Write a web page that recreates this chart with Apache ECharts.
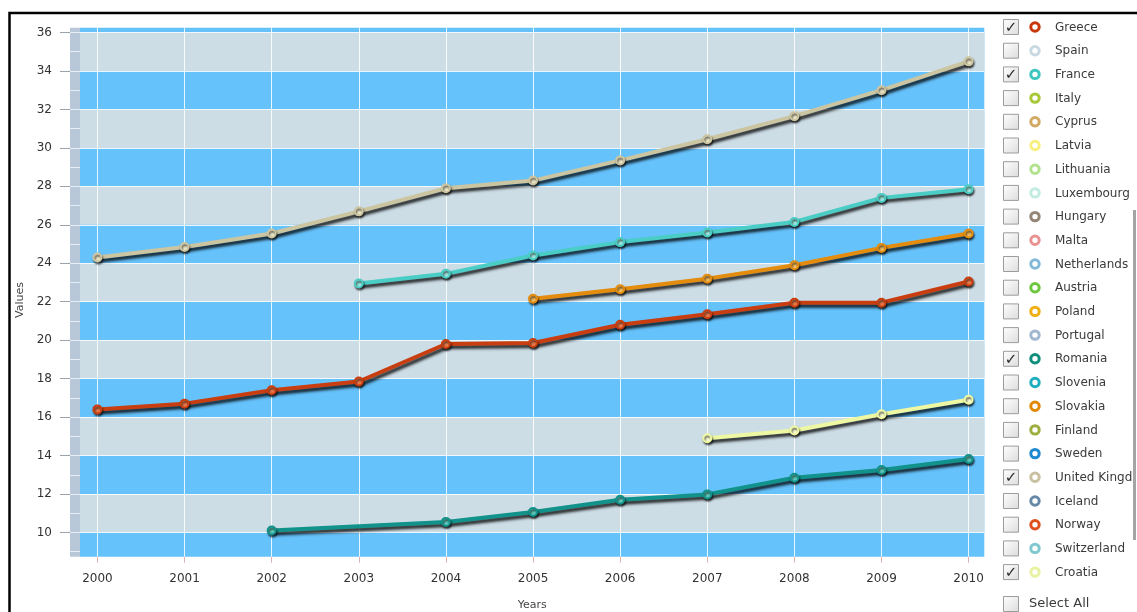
<!DOCTYPE html>
<html>
<head>
<meta charset="utf-8">
<title>Values by year</title>
<script src="https://cdn.jsdelivr.net/npm/echarts@6/dist/echarts.min.js"></script>
<style>
  html, body { margin: 0; padding: 0; background: #ffffff; }
  #chart { width: 1137px; height: 612px; }
</style>
</head>
<body>
<div id="chart"></div>
<script>
// ---- data ----
const years = [2000, 2001, 2002, 2003, 2004, 2005, 2006, 2007, 2008, 2009, 2010];

const greece        = [16.4, 16.7, 17.4, 17.85, 19.8, 19.85, 20.8, 21.35, 21.95, 21.95, 23.05];
const france        = [null, null, null, 22.95, 23.45, 24.4, 25.1, 25.6, 26.15, 27.4, 27.85];
const slovakia      = [null, null, null, null, null, 22.15, 22.65, 23.2, 23.9, 24.8, 25.55];
const romania       = [null, null, 10.1, null, 10.55, 11.07, 11.7, 11.98, 12.85, 13.25, 13.82];
const unitedKingdom = [24.3, 24.85, 25.55, 26.7, 27.9, 28.3, 29.35, 30.45, 31.65, 33.0, 34.5];
const croatia       = [null, null, null, null, null, null, null, 14.9, 15.3, 16.15, 16.9];

const yTicks = [10, 12, 14, 16, 18, 20, 22, 24, 26, 28, 30, 32, 34, 36];
const yMinorTicks = [9, 10, 11, 12, 13, 14, 15, 16, 17, 18, 19, 20, 21, 22,
                     23, 24, 25, 26, 27, 28, 29, 30, 31, 32, 33, 34, 35, 36];

const countries = ['Greece', 'Spain', 'France', 'Italy', 'Cyprus', 'Latvia', 'Lithuania',
  'Luxembourg', 'Hungary', 'Malta', 'Netherlands', 'Austria', 'Poland', 'Portugal',
  'Romania', 'Slovenia', 'Slovakia', 'Finland', 'Sweden', 'United Kingdom', 'Iceland',
  'Norway', 'Switzerland', 'Croatia'];
const countryColors = ['#c8380c', '#c9d9e2', '#3ec6bf', '#a8c83a', '#d2a862', '#f8f07e',
  '#b2e28e', '#c2ece2', '#968676', '#e89292', '#82b8d8', '#6ec83e', '#f0b012', '#a2b8d0',
  '#0e8e7c', '#1eaec0', '#e08800', '#9eae3e', '#1e88d0', '#c8c0a0', '#6888a8',
  '#e0501e', '#80c8d0', '#e8f2a2'];
const checked = ['Greece', 'France', 'Romania', 'United Kingdom', 'Croatia'];

// ---- plotted series ----
const plotted = [
  { name: 'United Kingdom', values: unitedKingdom, line: '#cbc5a2', dot: '#ece6c6' },
  { name: 'France',         values: france,        line: '#4acdc4', dot: '#9ae8e0' },
  { name: 'Slovakia',       values: slovakia,      line: '#e48c0e', dot: '#f6bc5a' },
  { name: 'Greece',         values: greece,        line: '#c83e10', dot: '#ee7a4a' },
  { name: 'Croatia',        values: croatia,       line: '#eef8a2', dot: '#f8fcd0' },
  { name: 'Romania',        values: romania,       line: '#11928a', dot: '#5ccabc' }
];

const BAND_BLUE = '#66c2fb';
const BAND_GRAY = '#cddde6';

// gray bands on every other interval between the major ticks
const grayBands = [];
for (let i = 0; i + 1 < yTicks.length; i += 2) {
  grayBands.push([{ yAxis: yTicks[i] }, { yAxis: yTicks[i + 1] }]);
}

const lineSeries = plotted.map(s => ({
  name: s.name,
  type: 'line',
  z: 5,
  data: years.map((y, i) => [y, s.values[i]]),
  connectNulls: true,
  symbol: 'circle',
  symbolSize: 8,
  lineStyle: {
    color: s.line,
    width: 4,
    shadowColor: 'rgba(0,0,0,0.85)',
    shadowBlur: 3,
    shadowOffsetX: 2,
    shadowOffsetY: 3
  },
  itemStyle: {
    color: s.dot,
    borderColor: s.line,
    borderWidth: 2,
    shadowColor: 'rgba(0,0,0,0.6)',
    shadowBlur: 2,
    shadowOffsetX: 1,
    shadowOffsetY: 2
  },
  emphasis: { disabled: true },
  animation: false
}));

// ---- legend with check boxes ----
const legendTop = 27;
const legendStep = 23.7;
const boxFill = () => new echarts.graphic.LinearGradient(0, 0, 1, 1, [
  { offset: 0, color: '#ffffff' }, { offset: 1, color: '#dcdcdc' }
]);
const legendItems = [];
countries.forEach((name, i) => {
  const cy = legendTop + i * legendStep;
  legendItems.push({
    type: 'rect',
    shape: { x: 1003.5, y: cy - 7.5, width: 15, height: 15 },
    style: { fill: boxFill(), stroke: '#9c9c9c', lineWidth: 1 },
    z: 10
  });
  if (checked.includes(name)) {
    legendItems.push({
      type: 'text',
      style: {
        x: 1011, y: cy + 1, text: '✓',
        font: 'bold 15px "DejaVu Sans", sans-serif',
        fill: '#2a2a2a', textAlign: 'center', verticalAlign: 'middle'
      },
      z: 11
    });
  }
  legendItems.push({
    type: 'circle',
    shape: { cx: 1035, cy: cy, r: 4.2 },
    style: { fill: '#ffffff', stroke: countryColors[i], lineWidth: 3 },
    z: 10
  });
  legendItems.push({
    type: 'text',
    style: {
      x: 1055, y: cy + 0.5, text: name,
      font: '12px "DejaVu Sans", sans-serif',
      fill: '#3a3a3a', verticalAlign: 'middle',
      width: 80, overflow: 'truncate', ellipsis: ''
    },
    z: 10
  });
});
// "Select All" row
legendItems.push({
  type: 'rect',
  shape: { x: 1003.5, y: 596.5, width: 15, height: 15 },
  style: { fill: boxFill(), stroke: '#9c9c9c', lineWidth: 1 },
  z: 10
});
legendItems.push({
  type: 'text',
  style: {
    x: 1029, y: 604, text: 'Select All',
    font: '13px "DejaVu Sans", sans-serif',
    fill: '#3a3a3a', verticalAlign: 'middle'
  },
  z: 10
});
// legend scroll bar
legendItems.push({
  type: 'rect',
  shape: { x: 1133, y: 210, width: 3, height: 330 },
  style: { fill: '#a4a4a4' },
  z: 10
});

const chart = echarts.init(document.getElementById('chart'), null, { renderer: 'canvas' });

chart.setOption({
  animation: false,
  backgroundColor: '#ffffff',
  grid: {
    left: 80, right: 152.7, top: 27.7, bottom: 55.3,
    show: true, backgroundColor: BAND_BLUE, borderWidth: 0,
    containLabel: false,
    outerBoundsMode: 'none'
  },
  xAxis: {
    type: 'value',
    min: 1999.8,
    max: 2010.18,
    name: 'Years',
    nameLocation: 'middle',
    nameGap: 43,
    nameTextStyle: { fontFamily: 'DejaVu Sans', fontSize: 11, color: '#444444' },
    axisLine: { show: false },
    splitLine: { show: false },
    axisTick: {
      show: true, customValues: years, length: 6,
      lineStyle: { color: '#dcb4b4', width: 1 }
    },
    axisLabel: {
      customValues: years, margin: 16,
      fontFamily: 'DejaVu Sans', fontSize: 12, color: '#333333',
      formatter: v => String(v)
    }
  },
  yAxis: [
    {
      // labels and major ticks
      type: 'value', position: 'left', min: 8.74, max: 36.25, offset: 10,
      axisLine: { show: false },
      splitLine: { show: false },
      axisTick: {
        show: true, customValues: yTicks, length: 10,
        lineStyle: { color: '#9aa4ac', width: 1 }
      },
      axisLabel: {
        customValues: yTicks, margin: 18,
        fontFamily: 'DejaVu Sans', fontSize: 12, color: '#333333'
      }
    },
    {
      // shaded strip along the value axis
      type: 'value', position: 'left', min: 8.74, max: 36.25, offset: 5,
      axisLine: { show: true, lineStyle: { color: '#b8c8d8', width: 10, cap: 'butt' } },
      axisTick: { show: false },
      axisLabel: { show: false },
      splitLine: { show: false }
    },
    {
      // unit separators across the strip
      type: 'value', position: 'left', min: 8.74, max: 36.25, offset: 0,
      axisLine: { show: false },
      axisTick: {
        show: true, customValues: yMinorTicks, length: 10,
        lineStyle: { color: '#e6eef4', width: 1 }
      },
      axisLabel: { show: false },
      splitLine: { show: false }
    }
  ],
  series: [
    {
      name: 'bands', type: 'line', data: [], z: 1, silent: true,
      markArea: {
        silent: true,
        itemStyle: { color: BAND_GRAY },
        data: grayBands
      }
    },
    {
      name: 'gridlines', type: 'line', data: [], z: 2, silent: true,
      markLine: {
        silent: true, symbol: 'none', animation: false,
        label: { show: false },
        lineStyle: { color: 'rgba(255,255,255,0.85)', width: 1, type: 'solid' },
        data: years.map(y => ({ xAxis: y }))
          .concat(yTicks.map(v => ({ yAxis: v })))
      }
    }
  ].concat(lineSeries),
  graphic: [
    {
      type: 'text',
      rotation: Math.PI / 2,
      x: 20, y: 300,
      style: {
        text: 'Values', font: '11px "DejaVu Sans", sans-serif',
        fill: '#444444', textAlign: 'center', verticalAlign: 'middle'
      }
    },
    {
      type: 'polyline',
      shape: { points: [[9.5, 612], [9.5, 13], [1137, 13]] },
      style: { stroke: '#000000', lineWidth: 2.5, fill: null },
      z: 20
    }
  ].concat(legendItems)
});
</script>
</body>
</html>
